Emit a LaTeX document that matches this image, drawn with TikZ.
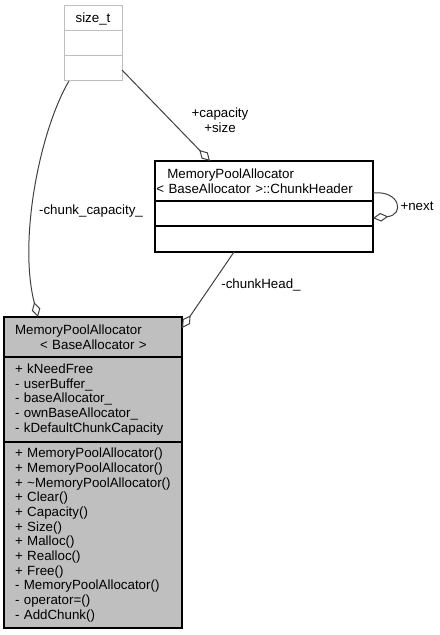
\documentclass[tikz,border=0pt]{standalone}
\usepackage{fontspec}
\setmainfont{Liberation Sans}
\usetikzlibrary{arrows.meta, calc, positioning}
\definecolor{classgray}{HTML}{BFBFBF}
\definecolor{edgegray}{HTML}{404040}

\begin{document}
\begin{tikzpicture}[
        x=0.75pt, y=-0.75pt,
        node distance = 0pt,
        base/.style = {draw, rectangle, inner ysep=0pt, outer sep=0pt,
                       font=\fontsize{10pt}{11pt}\selectfont},
        extern/.style = {base, draw=classgray, line width=0.75pt, fill=white,
                       minimum width=43.5pt, minimum height=18.75pt},
        chunkpart/.style = {base, line width=0.9pt, minimum width=163.5pt},
        mainpart/.style = {base, line width=1.1pt, fill=classgray, minimum width=133.5pt},
        member/.style = {mainpart, align=left, text width=117pt, inner xsep=8.25pt},
        lbl/.style = {font=\fontsize{10pt}{11.25pt}\selectfont, align=center, inner sep=0pt},
        assoc/.style = {draw=edgegray, line width=0.75pt,
                       -{Diamond[open, length=11.5pt, width=6.5pt]}},
        ]
        \useasboundingbox (0,0) rectangle (439,635);
        % external type
        \node [extern, anchor=north west] (sizeT) at (64,6) {size\_t};
        \node [extern, below=of sizeT] (sizeA) {};
        \node [extern, below=of sizeA] (sizeO) {};
        % nested chunk header
        \node [chunkpart, anchor=north west, minimum height=30pt, align=left,
               text width=161.5pt, inner xsep=1pt] (chunkT) at (155,161)
              {\hspace*{8.25pt}MemoryPoolAllocator\\< BaseAllocator >::ChunkHeader};
        \node [chunkpart, below=of chunkT, minimum height=18.75pt] (chunkA) {};
        \node [chunkpart, below=of chunkA, minimum height=19.5pt] (chunkO) {};
        % the allocator class
        \node [member, anchor=north west, minimum height=30pt] (poolT) at (4,317)
              {MemoryPoolAllocator\\\hspace*{18.75pt}< BaseAllocator >};
        \node [member, below=of poolT, minimum height=63.75pt] (poolA)
              {+ kNeedFree\\- userBuffer\_\\- baseAllocator\_\\- ownBaseAllocator\_\\- kDefaultChunkCapacity};
        \node [member, below=of poolA, minimum height=139.5pt] (poolM)
              {+ MemoryPoolAllocator()\\+ MemoryPoolAllocator()\\+ \textasciitilde MemoryPoolAllocator()\\
               + Clear()\\+ Capacity()\\+ Size()\\+ Malloc()\\+ Realloc()\\+ Free()\\
               - MemoryPoolAllocator()\\- operator=()\\- AddChunk()};

        \draw [assoc] ($(sizeO.south west)+(5,0)$) .. controls (40,130) and (18,240)
              .. ($(poolT.north west)+(34,0)$);
        \draw [assoc] ($(sizeO.north east)+(0,14)$) -- ($(chunkT.north west)+(55,0)$);
        \draw [assoc] ($(chunkO.south west)+(79,0)$) -- ($(poolT.north east)+(0,11)$);
        \draw [assoc] ($(chunkT.north east)+(0,32)$) .. controls +(27,-3) and +(32,-3)
              .. ($(chunkA.north east)+(0,17)$);

        \node [lbl] (capLbl) at (91,211) {-chunk\_capacity\_};
        \node [lbl] (sizeLbl) at (220,120) {+capacity\\+size};
        \node [lbl] (headLbl) at (261,285) {-chunkHead\_};
        \node [lbl] (nextLbl) at (417,206) {+next};
    \end{tikzpicture}
\end{document}
